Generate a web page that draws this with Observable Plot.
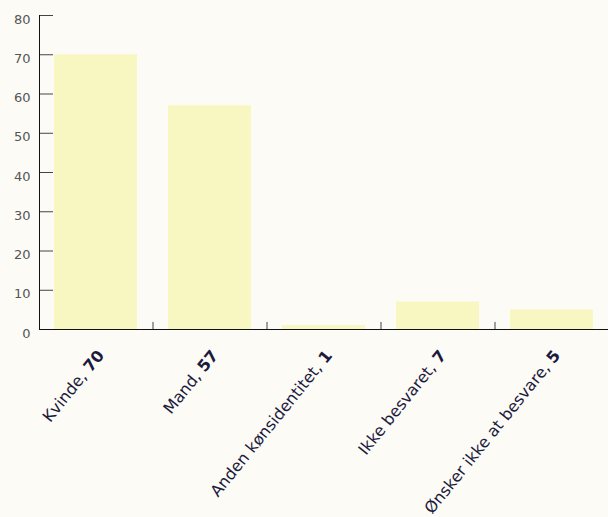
<!DOCTYPE html>
<html>
<head>
<meta charset="utf-8">
<script src="https://cdn.jsdelivr.net/npm/d3@7"></script>
<script src="https://cdn.jsdelivr.net/npm/@observablehq/plot@0.6"></script>
<style>
  html, body { margin: 0; padding: 0; background: #fcfbf6; }
  #chart svg { display: block; }
</style>
</head>
<body>
<div id="chart"></div>
<script>
const categories = ["Kvinde", "Mand", "Anden kønsidentitet", "Ikke besvaret", "Ønsker ikke at besvare"];
const values = [70, 57, 1, 7, 5];
const yTicks = [0, 10, 20, 30, 40, 50, 60, 70, 80];

const data = categories.map((c, i) => ({category: c, value: values[i]}));
const labelOf = new Map(data.map(d => [d.category, `${d.category}, ${d.value}`]));

const W = 608, H = 517, ML = 39, MR = -1;
const plotW = W - ML - MR;
const step = plotW / categories.length;

const svg = Plot.plot({
  width: W,
  height: H,
  marginTop: 15,
  marginLeft: ML,
  marginRight: MR,
  marginBottom: 188,
  style: {background: "#fcfbf6", fontFamily: "DejaVu Sans, sans-serif", overflow: "visible"},
  x: {domain: categories, paddingInner: 0.27, paddingOuter: 0.135, label: null},
  y: {domain: [0, 80], label: null},
  marks: [
    Plot.barY(data, {x: "category", y: "value", fill: "#f9f7c1"}),
    Plot.ruleX(categories.slice(1), {x: d => d, dx: -step / 2, y1: 0, y2: 1.8, stroke: "#444"}),
    Plot.tickY(yTicks, {y: d => d, insetRight: plotW - 14, stroke: "#444"}),
    Plot.axisY({ticks: yTicks, tickSize: 0, tickPadding: 9, dy: 4, fill: "#555", fontSize: 13}),
    Plot.axisX({tickSize: 0, tickRotate: -51, tickPadding: 22, dx: 5, dy: 1, tickFormat: d => labelOf.get(d), fill: "#1b1a3d", fontSize: 16}),
    Plot.frame({anchor: "left", stroke: "#111"}),
    Plot.frame({anchor: "bottom", stroke: "#111"})
  ]
});

d3.select(svg).selectAll('g[aria-label="x-axis tick label"] text').each(function() {
  const t = this.textContent;
  const i = t.lastIndexOf(", ");
  const name = t.slice(0, i + 1), val = t.slice(i + 2);
  const sel = d3.select(this);
  sel.text(null);
  sel.append("tspan").text(name + " ");
  sel.append("tspan").attr("font-weight", "bold").text(val);
});

document.getElementById("chart").appendChild(svg);
</script>
</body>
</html>
